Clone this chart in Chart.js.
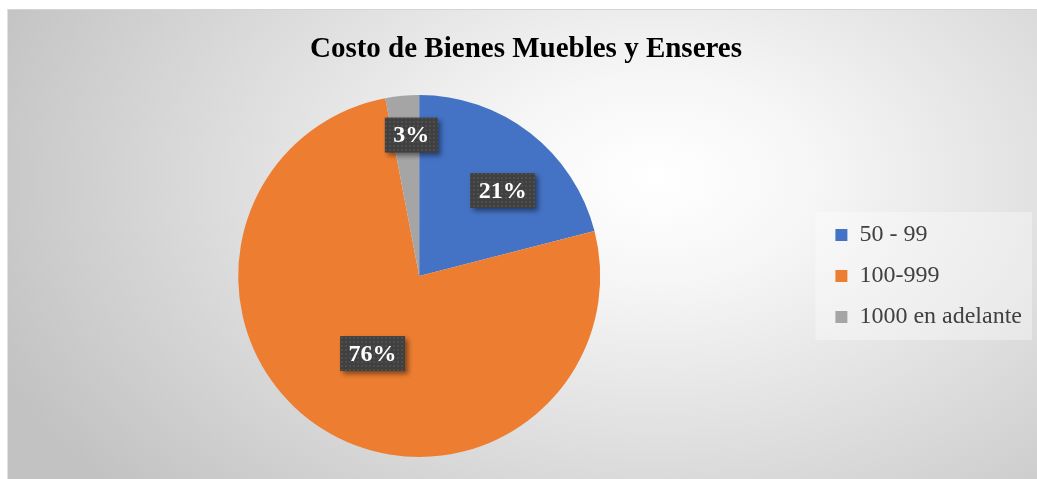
<!DOCTYPE html>
<html>
<head>
<meta charset="utf-8">
<script src="https://cdn.jsdelivr.net/npm/chart.js@4"></script>
<style>
  html, body { margin: 0; padding: 0; background: #fff; overflow: hidden; }
  #fondo {
    position: absolute; left: 7px; top: 9px; width: 1030px; height: 470px;
    background: radial-gradient(ellipse 70% 100% at 63% 36%, #ffffff 0%, #f6f6f6 22%, #c2c2c2 100%);
    border-left: 1px solid #e2e2e2; border-top: 1px solid #d4d4d4; box-sizing: border-box;
  }
  canvas { position: absolute; left: 0; top: 0; }
</style>
</head>
<body>
<div id="fondo"></div>
<canvas id="grafico" width="1037" height="479"></canvas>
<script>
const categorias = ["50 - 99", "100-999", "1000 en adelante"];
const porcentajes = [21, 76, 3];
const colores = ["#4472C4", "#ED7D31", "#A5A5A5"];

// trama de puntos de las etiquetas (como en Excel)
function crearTrama(ctx) {
    const c = document.createElement("canvas");
    c.width = 4; c.height = 4;
    const g = c.getContext("2d");
    g.fillStyle = "#404040";
    g.fillRect(0, 0, 4, 4);
    g.fillStyle = "#4e4e4e";
    g.fillRect(1, 1, 2, 2);
    return ctx.createPattern(c, "repeat");
}

const fondoLeyenda = {
    id: "fondoLeyenda",
    beforeDraw(chart) {
        const l = chart.legend;
        const medio = (l.top + l.bottom) / 2;
        const ctx = chart.ctx;
        ctx.save();
        ctx.fillStyle = "rgba(255,255,255,0.35)";
        ctx.fillRect(l.left - 3, medio - 64, chart.width - 2 - l.left, 128);
        ctx.restore();
    }
};

const etiquetas = {
    id: "etiquetas",
    afterDatasetsDraw(chart, args, opts) {
        const ctx = chart.ctx;
        const meta = chart.getDatasetMeta(0);
        const datos = chart.data.datasets[0].data;
        const total = datos.reduce((a, b) => a + b, 0);
        const trama = crearTrama(ctx);
        ctx.save();
        ctx.font = "bold 24px 'Liberation Serif'";
        ctx.textAlign = "center";
        ctx.textBaseline = "middle";
        meta.data.forEach((arco, i) => {
            const p = arco.getProps(["x", "y", "startAngle", "endAngle", "outerRadius"], true);
            const u = opts.ubicacion[i];
            const ang = (p.startAngle + p.endAngle) / 2 + u.giro * Math.PI / 180;
            const r = p.outerRadius * u.radio;
            const cx = p.x + Math.cos(ang) * r;
            const cy = p.y + Math.sin(ang) * r;
            const texto = Math.round(datos[i] / total * 100) + "%";
            const w = ctx.measureText(texto).width + 17;
            const h = 35;
            ctx.save();
            ctx.shadowColor = "rgba(0,0,0,0.45)";
            ctx.shadowBlur = 5;
            ctx.shadowOffsetX = 3;
            ctx.shadowOffsetY = 3;
            ctx.fillStyle = trama;
            ctx.fillRect(cx - w / 2, cy - h / 2, w, h);
            ctx.restore();
            ctx.fillStyle = "#ffffff";
            ctx.fillText(texto, cx, cy + 1);
        });
        ctx.restore();
    }
};

new Chart(document.getElementById("grafico"), {
    type: "pie",
    data: {
        labels: categorias,
        datasets: [{
            data: porcentajes,
            backgroundColor: colores,
            borderWidth: 0
        }]
    },
    options: {
        responsive: false,
        animation: false,
        layout: { padding: { left: 20, right: 5, top: 0, bottom: 22 } },
        plugins: {
            tooltip: { enabled: false },
            title: {
                display: true,
                text: "Costo de Bienes Muebles y Enseres",
                color: "#000000",
                font: { family: "'Liberation Serif'", size: 29, weight: "bold" },
                padding: { top: 32, bottom: 28.2 }
            },
            legend: {
                position: "right",
                fullSize: false,
                labels: {
                    boxWidth: 12,
                    boxHeight: 12,
                    padding: 17,
                    color: "#404040",
                    font: { family: "'Liberation Serif'", size: 24 }
                }
            },
            etiquetas: {
                ubicacion: [
                    { radio: 0.66, giro: 6.5 },
                    { radio: 0.50, giro: -1.4 },
                    { radio: 0.78, giro: 2.2 }
                ]
            }
        }
    },
    plugins: [fondoLeyenda, etiquetas]
});
</script>
</body>
</html>
